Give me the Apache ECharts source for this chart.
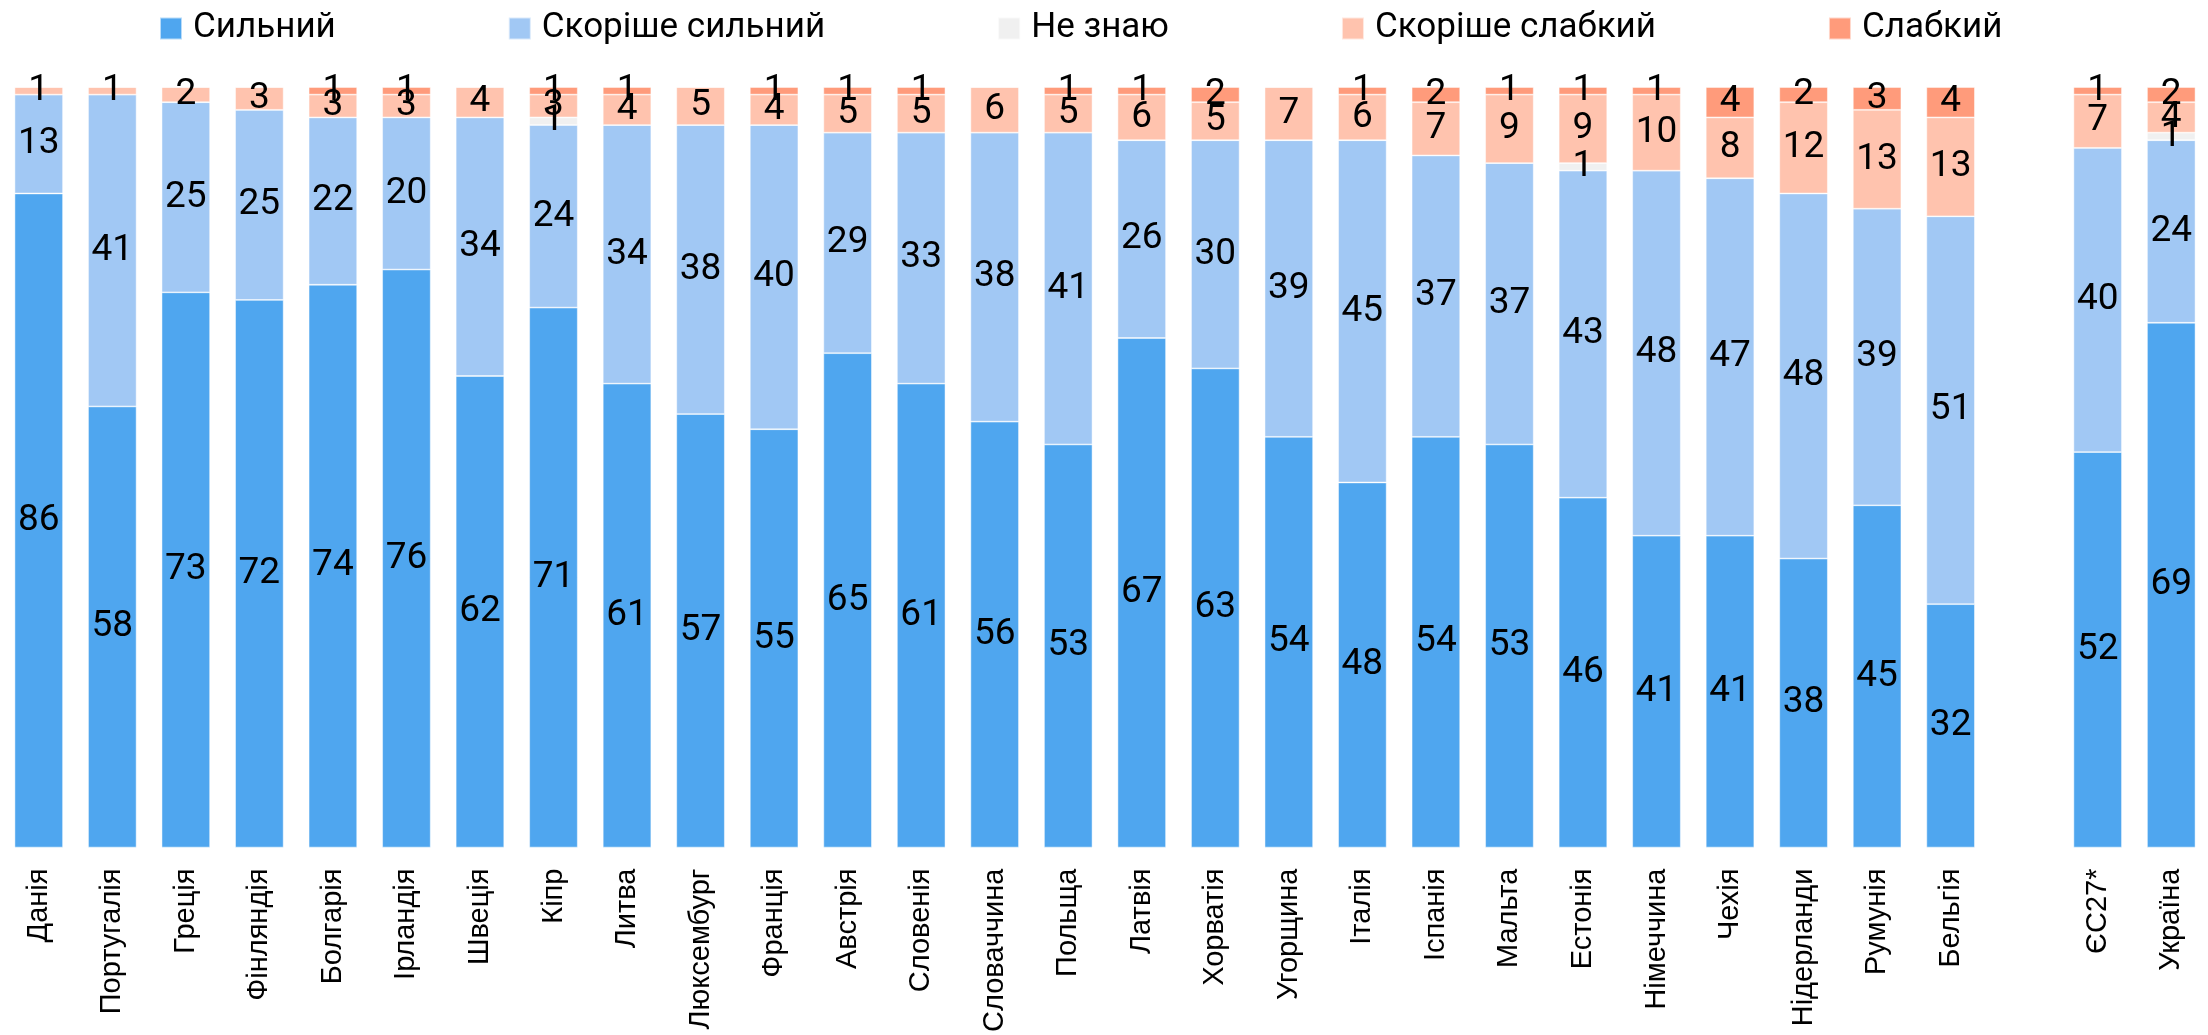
<!DOCTYPE html>
<html>
<head>
<meta charset="utf-8">
<style>
  html, body { margin: 0; padding: 0; background: #fff; }
  #chart { width: 2208px; height: 1035px; }
</style>
<script src="https://cdn.jsdelivr.net/npm/echarts@6/dist/echarts.min.js"></script>
</head>
<body>
<div id="chart"></div>
<script>
// категорії (порожня — проміжок перед ЄС27* та Україною)
const countries = ['Данія', 'Португалія', 'Греція', 'Фінляндія', 'Болгарія', 'Ірландія', 'Швеція', 'Кіпр',
  'Литва', 'Люксембург', 'Франція', 'Австрія', 'Словенія', 'Словаччина', 'Польща', 'Латвія', 'Хорватія',
  'Угорщина', 'Італія', 'Іспанія', 'Мальта', 'Естонія', 'Німеччина', 'Чехія', 'Нідерланди', 'Румунія',
  'Бельгія', '', 'ЄС27*', 'Україна']

const strong = [86, 58, 73, 72, 74, 76, 62, 71, 61, 57, 55, 65, 61, 56, 53, 67, 63, 54, 48, 54, 53, 46, 41, 41, 38, 45, 32, null, 52, 69]
const ratherStrong = [13, 41, 25, 25, 22, 20, 34, 24, 34, 38, 40, 29, 33, 38, 41, 26, 30, 39, 45, 37, 37, 43, 48, 47, 48, 39, 51, null, 40, 24]
const dontKnow = [0, 0, 0, 0, 0, 0, 0, 1, 0, 0, 0, 0, 0, 0, 0, 0, 0, 0, 0, 0, 0, 1, 0, 0, 0, 0, 0, null, 0, 1]
const ratherWeak = [1, 1, 2, 3, 3, 3, 4, 3, 4, 5, 4, 5, 5, 6, 5, 6, 5, 7, 6, 7, 9, 9, 10, 8, 12, 13, 13, null, 7, 4]
const weak = [0, 0, 0, 0, 1, 1, 0, 1, 1, 0, 1, 1, 1, 0, 1, 1, 2, 0, 1, 2, 1, 1, 1, 4, 2, 3, 4, null, 1, 2]

const seriesNames = ['Сильний', 'Скоріше сильний', 'Не знаю', 'Скоріше слабкий', 'Слабкий']
const seriesColors = ['#4fa6ef', '#a1c8f4', '#f0f0f0', '#ffc3ae', '#ff9b7b']
const seriesData = [strong, ratherStrong, dontKnow, ratherWeak, weak]

const chart = echarts.init(document.getElementById('chart'))

const series = seriesNames.map(function (name, i) {
  return {
    name: name,
    type: 'bar',
    stack: 'total',
    barWidth: '66%',
    data: seriesData[i],
    itemStyle: {
      color: seriesColors[i],
      borderColor: 'rgba(255,255,255,0.6)',
      borderWidth: 0.8
    },
    label: {
      show: true,
      position: 'inside',
      color: '#000',
      fontFamily: 'Roboto',
      fontSize: 37,
      formatter: function (p) {
        return p.value ? p.value : ''
      }
    }
  }
})

chart.setOption({
  animation: false,
  legend: {
    top: 6,
    left: 154,
    itemWidth: 22,
    itemHeight: 22,
    itemGap: 172,
    icon: 'rect',
    textStyle: {
      color: '#000',
      fontFamily: 'Roboto',
      fontSize: 35,
      padding: [0, 0, 0, 6]
    },
    data: seriesNames
  },
  grid: {
    left: 2,
    right: 0,
    top: 87,
    bottom: 183
  },
  xAxis: {
    type: 'category',
    data: countries,
    axisLine: { show: false },
    axisTick: { show: false },
    axisLabel: {
      rotate: 90,
      interval: 0,
      margin: 21,
      color: '#000',
      fontFamily: 'Liberation Sans',
      fontSize: 29
    }
  },
  yAxis: {
    type: 'value',
    min: 0,
    max: 100,
    show: false,
    splitLine: { show: false }
  },
  series: series
})
</script>
</body>
</html>
